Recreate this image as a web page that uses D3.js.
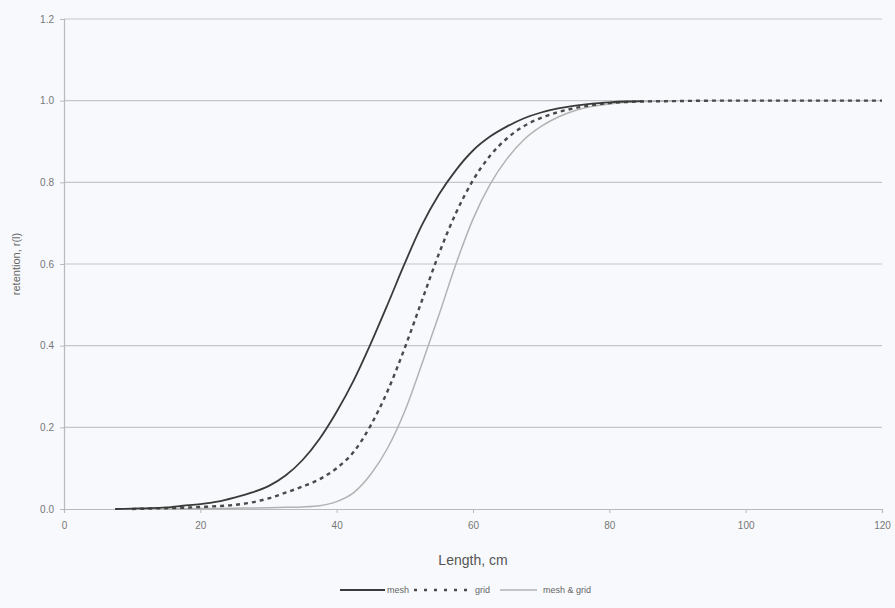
<!DOCTYPE html>
<html>
  <head>
    <meta charset="utf-8">
    <style>
      body {
        margin: 0;
        background: #f8f9fc;
        font-family: "Liberation Sans", Arial, sans-serif;
      }
      .grid line { stroke: #c4c6ca; stroke-width: 1.2; }
      .axis text { fill: #777; font-size: 10px; }
      .axis path, .axis line { stroke: #b8babe; }
    </style>
  </head>
  <body>
    <script src="https://d3js.org/d3.v7.min.js"></script>
    <script>
      // lengths (cm) and retention values
      var meshX = [7.5, 10, 12.5, 15, 17.5, 20, 22.5, 25, 27.5, 30, 32.5, 35, 37.5, 40, 42.5, 45, 47.5, 50,
                   52.5, 55, 57.5, 60, 62.5, 65, 67.5, 70, 72.5, 75, 77.5, 80, 82.5, 85];
      var meshY = [0.000, 0.001, 0.002, 0.004, 0.008, 0.012, 0.018, 0.028, 0.040, 0.056, 0.082, 0.120, 0.172,
                   0.238, 0.315, 0.405, 0.502, 0.602, 0.695, 0.770, 0.830, 0.878, 0.912, 0.937, 0.957, 0.971,
                   0.981, 0.988, 0.993, 0.996, 0.998, 0.999];

      var gridX = [10, 12.5, 15, 17.5, 20, 22.5, 25, 27.5, 30, 32.5, 35, 37.5, 40, 42.5, 45, 47.5, 50, 52.5,
                   55, 57.5, 60, 62.5, 65, 67.5, 70, 72.5, 75, 77.5, 80, 85, 90, 95, 100, 105, 110, 115, 120];
      var gridY = [0.000, 0.001, 0.002, 0.003, 0.005, 0.007, 0.010, 0.016, 0.026, 0.040, 0.055, 0.073, 0.100,
                   0.140, 0.205, 0.290, 0.395, 0.510, 0.625, 0.725, 0.805, 0.865, 0.908, 0.938, 0.958, 0.972,
                   0.982, 0.989, 0.994, 0.998, 0.999, 1.000, 1.000, 1.000, 1.000, 1.000, 1.000];

      var bothX = [15, 20, 25, 30, 32.5, 35, 37.5, 40, 42.5, 45, 47.5, 50, 52.5, 55, 57.5, 60, 62.5, 65, 67.5,
                   70, 72.5, 75, 77.5, 80, 82.5, 85, 90];
      var bothY = [0.000, 0.001, 0.002, 0.003, 0.004, 0.005, 0.008, 0.018, 0.040, 0.085, 0.150, 0.240, 0.355,
                   0.475, 0.600, 0.710, 0.795, 0.858, 0.905, 0.937, 0.960, 0.976, 0.986, 0.992, 0.996, 0.998, 1.000];

      var xTicks = [0, 20, 40, 60, 80, 100, 120];
      var yTicks = [0, 0.2, 0.4, 0.6, 0.8, 1.0, 1.2];

      var W = 895, H = 608;
      var margin = {top: 19, right: 13, bottom: 99, left: 64};
      var width = W - margin.left - margin.right,
          height = H - margin.top - margin.bottom;

      var svg = d3.select("body").append("svg")
          .attr("width", W)
          .attr("height", H)
        .append("g")
          .attr("transform", "translate(" + margin.left + "," + margin.top + ")");

      var x = d3.scaleLinear().domain([0, 120]).range([0, width]);
      var y = d3.scaleLinear().domain([0, 1.2]).range([height, 0]);

      // horizontal gridlines
      svg.append("g").attr("class", "grid")
        .selectAll("line")
          .data(yTicks.filter(function(d) { return d > 0; }))
        .enter().append("line")
          .attr("x1", 0).attr("x2", width)
          .attr("y1", function(d) { return y(d); })
          .attr("y2", function(d) { return y(d); });

      // axes
      svg.append("g").attr("class", "axis")
          .attr("transform", "translate(0," + height + ")")
          .call(d3.axisBottom(x).tickValues(xTicks).tickSize(4).tickPadding(9).tickFormat(d3.format("d")));

      svg.append("g").attr("class", "axis")
          .call(d3.axisLeft(y).tickValues(yTicks).tickSize(4).tickPadding(6).tickFormat(d3.format(".1f")));

      svg.selectAll(".axis .domain").attr("stroke-width", 1.2);

      // series
      var series = [
        {name: "mesh", xs: meshX, ys: meshY, color: "#3a3a3a", width: 1.8, dash: null},
        {name: "grid", xs: gridX, ys: gridY, color: "#4a4a4a", width: 2.4, dash: "4,4"},
        {name: "mesh & grid", xs: bothX, ys: bothY, color: "#b2b2b2", width: 1.5, dash: null}
      ];

      var line = d3.line()
          .x(function(d) { return x(d[0]); })
          .y(function(d) { return y(d[1]); })
          .curve(d3.curveMonotoneX);

      series.slice().reverse().forEach(function(s) {
        svg.append("path")
            .datum(d3.zip(s.xs, s.ys))
            .attr("fill", "none")
            .attr("stroke", s.color)
            .attr("stroke-width", s.width)
            .attr("stroke-dasharray", s.dash)
            .attr("d", line);
      });

      // axis titles
      svg.append("text")
          .attr("x", x(60))
          .attr("y", height + 56)
          .attr("text-anchor", "middle")
          .style("font-size", "14px")
          .style("fill", "#555")
          .text("Length, cm");

      svg.append("text")
          .attr("transform", "translate(" + (-44) + "," + y(0.6) + ") rotate(-90)")
          .attr("text-anchor", "middle")
          .style("font-size", "11px")
          .style("fill", "#666")
          .text("retention, r(l)");

      // legend: line start, line length, text start (relative to legend origin)
      var legendPos = [[0, 45, 47], [74, 58, 135], [160, 37, 203]];
      var legend = svg.append("g")
          .attr("transform", "translate(" + (340 - margin.left) + "," + (590 - margin.top) + ")");
      series.forEach(function(s, i) {
        var p = legendPos[i];
        legend.append("line")
            .attr("x1", p[0]).attr("x2", p[0] + p[1])
            .attr("y1", 0).attr("y2", 0)
            .attr("stroke", s.color)
            .attr("stroke-width", s.width)
            .attr("stroke-dasharray", i == 1 ? "3,7" : s.dash);
        legend.append("text")
            .attr("x", p[2])
            .attr("y", 3)
            .style("font-size", "9px")
            .style("fill", "#666")
            .text(s.name);
      });
    </script>
  </body>
</html>
